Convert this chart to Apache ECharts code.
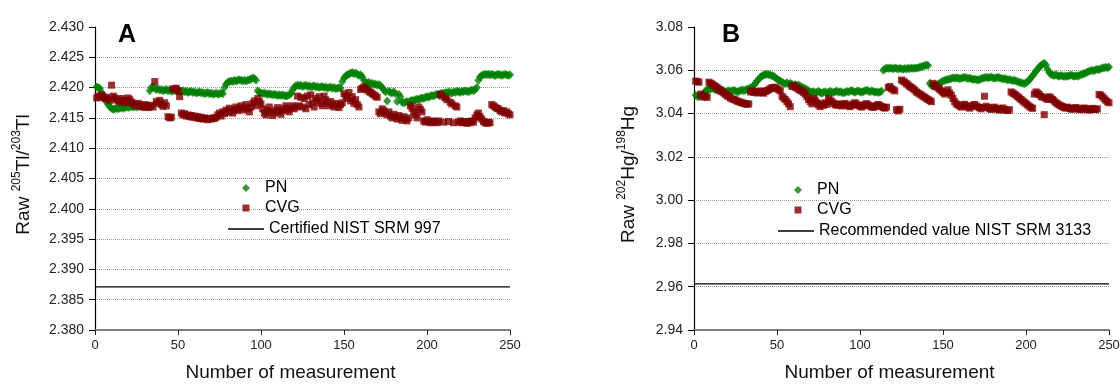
<!DOCTYPE html>
<html>
<head>
<meta charset="utf-8">
<script src="https://cdn.jsdelivr.net/npm/echarts@6/dist/echarts.min.js"></script>
<style>
html,body{margin:0;padding:0;background:#fff;}
#c{width:1120px;height:385px;}
</style>
</head>
<body>
<div id="c"></div>
<script>
// ---------- DATA ----------
const xTicksA = [0, 50, 100, 150, 200, 250];
const yTicksA = [2.380, 2.385, 2.390, 2.395, 2.400, 2.405, 2.410, 2.415, 2.420, 2.425, 2.430];
const yTicksB = [2.94, 2.96, 2.98, 3.00, 3.02, 3.04, 3.06, 3.08];

const refTl = 2.3871;   // Certified NIST SRM 997
const refHg = 2.9613;   // Recommended value NIST SRM 3133

const pnTl = [
2.4201,2.4200,2.4198,
2.4192,2.4186,2.4180,2.4176,2.4172,2.4168,2.4166,
2.4164,2.4165,2.4166,2.4165,2.4166,2.4167,2.4166,2.4167,2.4168,2.4167,2.4168,2.4169,2.4168,2.4169,2.4168,2.4169,2.4170,2.4169,2.4168,2.4169,2.4170,2.4169,
2.4195,2.4200,2.4201,2.4199,
2.4197,2.4198,2.4196,2.4197,2.4195,2.4196,2.4197,2.4195,2.4196,2.4194,2.4195,2.4196,2.4194,2.4195,2.4193,2.4194,2.4195,2.4193,2.4194,2.4192,2.4193,2.4194,2.4192,2.4193,2.4191,2.4192,2.4193,2.4191,2.4192,2.4190,2.4191,2.4192,2.4190,2.4191,2.4189,2.4190,2.4191,2.4189,2.4190,2.4191,2.4190,
2.4200,2.4206,2.4209,2.4210,2.4211,2.4210,2.4212,2.4211,2.4212,2.4213,2.4212,2.4211,2.4212,2.4211,2.4212,2.4213,2.4214,2.4216,2.4215,2.4212,
2.4195,2.4192,2.4191,2.4190,2.4191,2.4190,2.4189,2.4190,2.4189,2.4188,2.4189,2.4188,2.4187,2.4188,2.4187,2.4188,2.4187,2.4186,2.4187,2.4188,2.4190,2.4196,2.4200,
2.4203,2.4204,2.4203,2.4204,2.4202,2.4203,2.4204,2.4202,2.4203,2.4201,2.4202,2.4203,2.4201,2.4202,2.4200,2.4201,2.4202,2.4200,2.4201,2.4199,2.4200,2.4201,2.4199,2.4200,2.4198,2.4199,2.4200,2.4199,
2.4210,2.4216,2.4219,2.4221,2.4222,2.4224,2.4225,2.4223,2.4224,2.4222,2.4220,2.4221,2.4218,2.4212,
2.4208,2.4207,2.4209,2.4206,2.4207,2.4205,2.4206,2.4204,2.4205,2.4203,2.4200,
2.4196,2.4193,2.4178,2.4194,2.4192,2.4191,2.4193,2.4190,2.4177,2.4189,2.4185,
2.4176,2.4175,2.4176,2.4177,2.4176,2.4178,2.4179,2.4178,2.4180,2.4181,2.4180,2.4182,2.4183,2.4182,2.4184,2.4185,2.4184,2.4186,2.4187,2.4186,2.4188,2.4189,2.4188,2.4190,
2.4191,2.4190,2.4192,2.4191,2.4193,2.4192,2.4191,2.4193,2.4192,2.4194,2.4193,2.4192,2.4194,2.4193,2.4195,2.4194,2.4193,2.4195,2.4196,2.4195,2.4197,2.4200,
2.4212,2.4218,2.4220,2.4221,2.4222,2.4221,2.4222,2.4221,2.4222,2.4221,2.4220,2.4221,2.4222,2.4221,2.4220,2.4221,2.4222,2.4221,2.4220,2.4221
];

const cvgTl = [
2.4183,2.4186,2.4184,2.4188,2.4185,2.4182,2.4184,2.4181,2.4179,
2.4204,
2.4186,2.4183,2.4180,2.4178,2.4176,2.4182,2.4179,2.4175,2.4177,2.4183,2.4180,2.4176,2.4174,
2.4172,2.4170,2.4174,2.4171,2.4169,2.4168,2.4172,2.4170,2.4167,2.4169,2.4171,2.4168,2.4210,2.4177,2.4174,2.4179,2.4172,2.4169,2.4175,2.4170,
2.4152,2.4150,2.4151,2.4198,
2.4197,2.4199,2.4195,2.4185,
2.4158,2.4155,2.4157,2.4153,2.4155,2.4152,2.4154,2.4151,2.4153,2.4150,2.4152,2.4149,2.4151,2.4148,2.4150,2.4149,2.4147,2.4149,2.4148,2.4150,2.4149,2.4151,
2.4155,2.4158,2.4153,2.4160,2.4157,2.4163,2.4159,2.4166,2.4161,2.4158,2.4164,2.4168,2.4162,2.4166,2.4170,2.4163,2.4167,2.4172,2.4165,2.4160,2.4168,2.4174,2.4178,2.4170,
2.4182,2.4177,2.4173,2.4165,2.4158,2.4155,2.4162,2.4168,2.4160,2.4154,2.4158,2.4163,2.4167,2.4160,2.4156,2.4162,2.4166,2.4170,2.4164,2.4160,2.4166,2.4170,2.4165,2.4168,
2.4186,2.4170,2.4184,2.4168,2.4182,2.4165,2.4186,2.4172,2.4188,2.4175,2.4168,2.4182,2.4178,2.4185,2.4174,2.4170,2.4186,2.4180,2.4175,2.4170,2.4177,2.4172,2.4168,2.4174,2.4170,2.4167,2.4172,
2.4175,2.4190,2.4186,2.4182,2.4192,2.4178,2.4185,2.4174,2.4180,2.4172,2.4168,2.4197,2.4199,
2.4201,2.4198,2.4196,2.4194,2.4192,2.4190,2.4188,2.4186,2.4184,
2.4160,2.4157,2.4165,2.4162,2.4158,2.4155,2.4160,2.4153,2.4150,2.4156,2.4152,2.4148,2.4154,2.4150,2.4146,2.4152,2.4148,2.4145,2.4150,
2.4170,2.4166,2.4160,2.4155,2.4150,2.4168,2.4164,2.4160,2.4145,2.4143,2.4147,2.4144,2.4142,2.4145,2.4143,
2.4144,2.4142,2.4145,2.4189,2.4186,2.4143,2.4183,2.4180,2.4144,2.4176,2.4173,2.4142,2.4170,2.4168,
2.4143,2.4145,2.4142,2.4144,2.4143,2.4141,2.4144,2.4142,2.4145,2.4143,2.4150,2.4155,2.4158,2.4152,2.4148,2.4144,2.4142,2.4141,2.4143,2.4142,
2.4172,2.4170,2.4168,2.4166,2.4165,2.4162,2.4160,2.4162,2.4158,2.4160,2.4157,2.4155
];

const pnHg = [
3.0485,3.0480,3.0478,3.0482,3.0486,3.0490,
3.0505,3.0510,3.0515,3.0512,3.0518,3.0514,3.0510,3.0508,3.0512,3.0506,3.0510,3.0504,3.0500,3.0503,3.0506,3.0502,3.0505,3.0508,3.0504,3.0500,3.0503,3.0507,3.0510,3.0506,3.0509,3.0512,3.0515,3.0518,3.0522,3.0530,3.0540,
3.0550,3.0560,3.0568,3.0574,3.0578,3.0580,3.0582,3.0580,3.0578,3.0575,3.0572,3.0566,3.0560,3.0555,3.0550,
3.0545,3.0540,3.0538,3.0542,3.0536,3.0540,3.0535,3.0530,3.0534,3.0528,3.0532,3.0526,3.0522,3.0518,3.0515,3.0510,
3.0505,3.0500,3.0498,3.0502,3.0496,3.0499,3.0503,3.0497,3.0494,3.0498,3.0501,3.0496,3.0499,3.0503,3.0500,3.0497,3.0501,3.0504,3.0499,3.0502,3.0498,3.0495,3.0499,3.0503,3.0500,3.0504,3.0507,3.0502,3.0499,3.0503,3.0506,3.0501,3.0498,3.0502,3.0505,3.0509,3.0504,3.0501,3.0505,3.0502,3.0498,3.0501,3.0497,3.0500,3.0504,
3.0600,3.0606,3.0610,3.0608,3.0611,3.0609,3.0607,3.0610,3.0608,3.0606,3.0609,3.0607,3.0605,3.0608,3.0606,3.0609,3.0607,3.0610,3.0608,3.0611,3.0609,3.0612,3.0614,3.0616,3.0619,3.0622,3.0625,3.0622,
3.0540,3.0530,3.0526,3.0528,3.0532,3.0536,3.0540,3.0545,3.0550,3.0553,3.0556,3.0558,
3.0560,3.0562,3.0565,3.0563,3.0566,3.0564,3.0561,3.0563,3.0566,3.0568,3.0565,3.0562,3.0564,3.0561,3.0558,3.0560,3.0557,3.0555,3.0558,3.0561,3.0564,3.0566,3.0568,3.0565,3.0567,3.0569,3.0566,3.0563,3.0565,3.0568,3.0566,3.0563,3.0560,3.0562,3.0559,3.0556,3.0558,3.0555,3.0552,3.0554,3.0550,3.0547,3.0545,3.0542,3.0540,3.0538,3.0542,3.0548,3.0555,3.0565,3.0575,
3.0585,3.0595,3.0605,3.0615,3.0622,3.0628,3.0632,3.0625,3.0605,
3.0590,3.0582,3.0578,3.0576,3.0579,3.0575,3.0573,3.0576,3.0574,3.0571,3.0574,3.0572,3.0575,3.0578,3.0575,3.0572,3.0575,3.0573,3.0576,3.0579,3.0582,3.0585,3.0588,
3.0592,3.0595,3.0598,3.0600,3.0598,3.0602,3.0605,3.0603,3.0607,3.0610,3.0612,3.0614,3.0612,3.0615
];

const cvgHg = [
3.0550,3.0548,3.0545,3.0490,3.0482,3.0476,
3.0480,3.0475,3.0545,3.0540,3.0536,3.0530,3.0525,3.0520,3.0512,3.0505,3.0500,3.0495,3.0488,3.0482,
3.0478,3.0472,3.0468,3.0465,3.0462,3.0458,3.0455,3.0452,3.0450,3.0447,3.0445,3.0443,3.0445,
3.0500,3.0505,3.0498,3.0502,3.0495,3.0500,3.0505,3.0498,3.0494,3.0502,3.0506,3.0510,3.0515,
3.0520,3.0518,3.0522,3.0515,3.0510,3.0505,
3.0480,3.0472,3.0465,3.0455,3.0445,3.0432,
3.0525,3.0530,3.0522,3.0518,3.0512,3.0508,3.0503,3.0498,
3.0490,3.0478,3.0465,3.0455,3.0445,3.0470,3.0462,3.0450,3.0440,3.0432,3.0445,3.0438,3.0450,3.0442,
3.0470,3.0462,3.0455,3.0448,3.0442,3.0438,3.0445,3.0440,3.0435,3.0442,3.0447,3.0440,3.0436,3.0432,3.0438,3.0445,3.0450,3.0443,3.0438,3.0434,3.0430,3.0436,3.0442,3.0446,3.0440,3.0435,3.0431,3.0428,3.0433,3.0438,3.0442,3.0437,3.0432,3.0428,3.0425,3.0430,
3.0520,3.0525,3.0515,3.0510,3.0505,3.0418,3.0412,3.0420,
3.0555,3.0550,3.0545,3.0538,3.0532,3.0525,3.0520,3.0515,3.0508,3.0500,3.0495,3.0490,3.0485,3.0480,3.0475,3.0470,3.0465,3.0460,3.0455,
3.0540,3.0530,3.0525,3.0518,3.0512,3.0505,3.0498,3.0490,3.0500,3.0510,3.0495,3.0485,3.0470,3.0455,3.0445,
3.0440,3.0435,3.0430,3.0438,3.0443,3.0436,3.0430,3.0425,3.0432,3.0438,3.0442,3.0436,3.0431,3.0427,3.0422,3.0428,3.0480,3.0434,3.0428,3.0423,3.0419,3.0425,3.0430,3.0424,3.0420,3.0416,3.0421,3.0426,3.0420,3.0416,3.0414,3.0418,
3.0500,3.0495,3.0490,3.0485,3.0478,3.0472,3.0465,3.0458,3.0452,3.0446,3.0440,3.0434,3.0428,3.0424,
3.0490,3.0500,3.0495,3.0488,3.0480,3.0475,3.0395,3.0470,3.0465,3.0478,3.0472,3.0465,3.0458,3.0450,
3.0445,3.0440,3.0436,3.0432,3.0428,3.0425,3.0430,3.0426,3.0422,3.0420,3.0424,3.0428,3.0424,3.0420,3.0418,3.0422,3.0426,3.0422,3.0419,3.0416,3.0420,3.0424,3.0421,3.0418,3.0422,
3.0488,3.0485,3.0478,3.0470,3.0462,3.0455,3.0450
];

// ---------- CHART ----------
const FONT = 'Liberation Sans, Arial, sans-serif';
const GREEN = '#008000';
const RED = '#800000';
const toXY = arr => arr.map((v, i) => [i + 1, v]);

function xAxisCfg(gi) {
  return {
    gridIndex: gi, type: 'value',
    min: xTicksA[0], max: xTicksA[xTicksA.length - 1], interval: 50,
    name: 'Number of measurement', nameLocation: 'middle', nameGap: 33,
    nameTextStyle: { fontFamily: FONT, fontSize: 19, color: '#111', padding: [0, 24, 0, 0] },
    axisLine: { show: true, onZero: false, lineStyle: { color: '#7f7f7f', width: 2 } },
    axisTick: { show: true, inside: false, length: 5, lineStyle: { color: '#222', width: 1 } },
    axisLabel: { fontFamily: FONT, fontSize: 13, color: '#222', margin: 9 },
    splitLine: { show: false }
  };
}
function yAxisCfg(gi, ticks, interval, dec, name, gap) {
  return {
    gridIndex: gi, type: 'value',
    min: ticks[0], max: ticks[ticks.length - 1], interval: interval,
    name: name, nameLocation: 'middle', nameGap: gap, nameRotate: 90,
    nameTextStyle: {
      fontFamily: FONT, color: '#111', padding: [0, 0, 0, 8],
      rich: {
        n: { fontFamily: FONT, fontSize: 19, color: '#111', lineHeight: 22, verticalAlign: 'bottom' },
        s: { fontFamily: FONT, fontSize: 12, color: '#111', lineHeight: 22, verticalAlign: 'top' }
      }
    },
    axisLine: { show: true, lineStyle: { color: '#000', width: 1.2 } },
    axisTick: { show: true, inside: false, length: 6, lineStyle: { color: '#000', width: 1 } },
    axisLabel: { fontFamily: FONT, fontSize: 14, color: '#222', margin: 11,
      formatter: v => v.toFixed(dec) },
    splitLine: { show: true, showMinLine: false, showMaxLine: false,
      lineStyle: { color: '#999', type: 'dotted', width: 1 } }
  };
}
function symLegend(name, icon, size, left, top) {
  return { orient: 'vertical', left: left - size / 2, top: top, padding: 0,
    itemWidth: size, itemHeight: size, icon: icon, symbolKeepAspect: true,
    textStyle: { fontFamily: FONT, fontSize: 16, color: '#000', padding: [0, 0, 0, 19 - size / 2 - 5] },
    data: [name] };
}
function lineLegend(name, left, top) {
  return { orient: 'vertical', left: left, top: top, padding: 0,
    itemWidth: 36, itemHeight: 1.4, icon: 'rect',
    itemStyle: { color: '#000' },
    textStyle: { fontFamily: FONT, fontSize: 16, color: '#000' },
    data: [name] };
}

const chart = echarts.init(document.getElementById('c'), null, { renderer: 'canvas' });
chart.setOption({
  backgroundColor: '#fff',
  animation: false,
  title: [
    { text: 'A', left: 113, top: 18, textStyle: { fontFamily: FONT, fontWeight: 'bold', fontSize: 25, color: '#000' } },
    { text: 'B', left: 717, top: 18, textStyle: { fontFamily: FONT, fontWeight: 'bold', fontSize: 25, color: '#000' } }
  ],
  grid: [
    { left: 95, right: 610, top: 27, bottom: 55, outerBoundsMode: 'none' },
    { left: 694, right: 11, top: 27, bottom: 55, outerBoundsMode: 'none' }
  ],
  xAxis: [xAxisCfg(0), xAxisCfg(1)],
  yAxis: [
    yAxisCfg(0, yTicksA, 0.005, 3, '{n|Raw }{s|205}{n|Tl/}{s|203}{n|Tl}', 62),
    yAxisCfg(1, yTicksB, 0.02, 2, '{n|Raw }{s|202}{n|Hg/}{s|198}{n|Hg}', 56)
  ],
  legend: [
    symLegend('PN', 'diamond', 8, 246, 180),
    symLegend('CVG', 'rect', 7, 246, 200),
    lineLegend('Certified NIST SRM 997', 228, 221),
    symLegend('PN ', 'diamond', 8, 798, 182),
    symLegend('CVG ', 'rect', 7, 798, 202),
    lineLegend('Recommended value NIST SRM 3133', 778, 223)
  ],
  series: [
    { name: 'PN', type: 'scatter', xAxisIndex: 0, yAxisIndex: 0, symbol: 'diamond', symbolSize: [8, 9],
      itemStyle: { color: GREEN }, data: toXY(pnTl) },
    { name: 'CVG', type: 'scatter', xAxisIndex: 0, yAxisIndex: 0, symbol: 'rect', symbolSize: 7,
      itemStyle: { color: RED }, data: toXY(cvgTl) },
    { name: 'Certified NIST SRM 997', type: 'line', xAxisIndex: 0, yAxisIndex: 0, symbol: 'none',
      lineStyle: { color: '#000', width: 1.2 }, itemStyle: { color: '#000' },
      data: [[xTicksA[0], refTl], [xTicksA[xTicksA.length - 1], refTl]] },
    { name: 'PN ', type: 'scatter', xAxisIndex: 1, yAxisIndex: 1, symbol: 'diamond', symbolSize: [8, 9],
      itemStyle: { color: GREEN }, data: toXY(pnHg) },
    { name: 'CVG ', type: 'scatter', xAxisIndex: 1, yAxisIndex: 1, symbol: 'rect', symbolSize: 7,
      itemStyle: { color: RED }, data: toXY(cvgHg) },
    { name: 'Recommended value NIST SRM 3133', type: 'line', xAxisIndex: 1, yAxisIndex: 1, symbol: 'none',
      lineStyle: { color: '#000', width: 1.2 }, itemStyle: { color: '#000' },
      data: [[xTicksA[0], refHg], [xTicksA[xTicksA.length - 1], refHg]] }
  ]
});
</script>
</body>
</html>
